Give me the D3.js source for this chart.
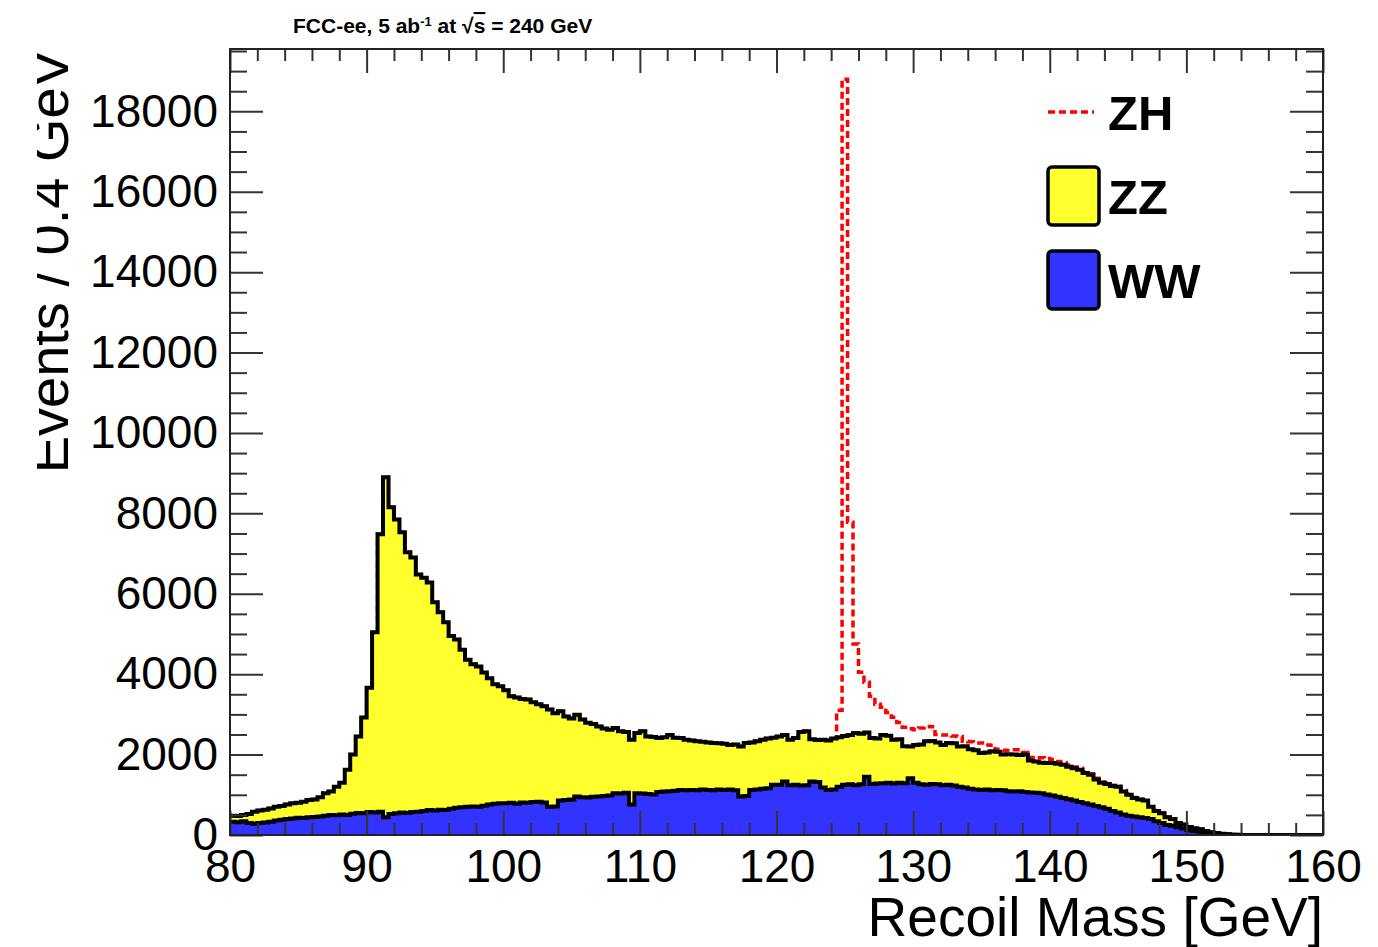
<!DOCTYPE html>
<html>
<head>
<meta charset="utf-8">
<script src="https://cdn.jsdelivr.net/npm/d3@7"></script>
<style>
  body { margin: 0; background: #fff; }
  text { font-family: "Liberation Sans", Arial, Helvetica, sans-serif; }
</style>
</head>
<body>
<div id="chart"></div>
<script>
// recoil mass binning: 80 -> 160 GeV, 0.4 GeV per bin (200 bins)
const massLow = 80, massHigh = 160, binWidth = 0.4;

// events per bin, WW background
const wwEvents = [
  330, 320, 340, 300, 280, 300, 310, 330, 360, 380,
  400, 410, 430, 420, 440, 450, 460, 480, 500, 490,
  510, 500, 530, 550, 540, 570, 560, 580, 440, 520,
  540, 560, 550, 570, 580, 600, 620, 610, 630, 620,
  650, 680, 690, 700, 710, 700, 730, 760, 780, 790,
  790, 800, 780, 810, 800, 820, 830, 810, 700, 710,
  860, 870, 880, 960, 940, 930, 950, 960, 970, 980,
  1040, 1030, 1050, 760, 1040, 1030, 1020, 1010, 1070, 1080,
  1090, 1100, 1120, 1110, 1120, 1110, 1130, 1120, 1110, 1130,
  1120, 1130, 1110, 960, 970, 1120, 1130, 1150, 1160, 1250,
  1250, 1330, 1240, 1250, 1230, 1240, 1330, 1320, 1180, 1120,
  1130, 1200, 1250, 1260, 1240, 1260, 1450, 1270, 1280, 1290,
  1300, 1280, 1300, 1290, 1410, 1300, 1260, 1250, 1270, 1260,
  1240, 1250, 1230, 1200, 1180, 1150, 1130, 1120, 1130, 1110,
  1120, 1110, 1090, 1080, 1090, 1070, 1060, 1050, 1040, 1010,
  980, 950, 920, 890, 860, 820, 790, 760, 720, 690,
  650, 600, 560, 510, 480, 460, 440, 420, 400, 340,
  300, 250, 230, 190, 160, 120, 100, 80, 60, 45,
  30, 20, 12, 6, 3, 0, 0, 0, 0, 0,
  0, 0, 0, 0, 0, 0, 0, 0, 0, 0
];

// events per bin, ZZ background
const zzEvents = [
  150, 150, 160, 220, 300, 310, 320, 330, 340, 340,
  360, 380, 370, 410, 430, 430, 480, 560, 580, 710,
  790, 1120, 1470, 1900, 2380, 3090, 4480, 6900, 8460, 7630,
  7310, 6970, 6480, 6330, 5900, 5800, 5660, 5180, 4910, 4670,
  4300, 4180, 3920, 3660, 3540, 3490, 3310, 3140, 2970, 2910,
  2810, 2650, 2640, 2570, 2570, 2480, 2420, 2390, 2420, 2320,
  2220, 2080, 2020, 2030, 1930, 1860, 1810, 1740, 1680, 1640,
  1620, 1550, 1510, 1610, 1500, 1550, 1430, 1430, 1340, 1350,
  1400, 1320, 1290, 1260, 1230, 1220, 1190, 1180, 1180, 1150,
  1150, 1110, 1140, 1240, 1320, 1180, 1200, 1220, 1240, 1170,
  1200, 1160, 1130, 1160, 1330, 1340, 1050, 1040, 1190, 1230,
  1270, 1230, 1210, 1230, 1300, 1260, 1100, 1140, 1120, 1200,
  1170, 1090, 1080, 920, 790, 940, 990, 1080, 1070, 1040,
  1000, 1040, 1050, 1000, 1030, 980, 980, 920, 920, 970,
  950, 890, 920, 920, 900, 930, 790, 780, 760, 780,
  810, 820, 830, 810, 800, 800, 750, 740, 660, 610,
  620, 620, 640, 570, 520, 460, 440, 440, 300, 260,
  240, 190, 170, 110, 100, 80, 70, 60, 40, 25,
  20, 10, 6, 2, 1, 0, 0, 0, 0, 0,
  0, 0, 0, 0, 0, 0, 0, 0, 0, 0
];

// events per bin, ZH signal
const zhEvents = [
  0, 0, 0, 0, 0, 0, 0, 0, 0, 0,
  0, 0, 0, 0, 0, 0, 0, 0, 0, 0,
  0, 0, 0, 0, 0, 0, 0, 0, 0, 0,
  0, 0, 0, 0, 0, 0, 0, 0, 0, 0,
  0, 0, 0, 0, 0, 0, 0, 0, 0, 0,
  0, 0, 0, 0, 0, 0, 0, 0, 0, 0,
  0, 0, 0, 0, 0, 0, 0, 0, 0, 0,
  0, 0, 0, 0, 0, 0, 0, 0, 0, 0,
  0, 0, 0, 0, 0, 0, 0, 0, 0, 0,
  0, 0, 0, 0, 0, 0, 0, 0, 0, 0,
  0, 0, 0, 0, 0, 0, 0, 0, 0, 0,
  0, 670, 16340, 5290, 2210, 1530, 1250, 1040, 850, 690,
  580, 560, 420, 470, 440, 380, 410, 370, 350, 200,
  250, 200, 180, 250, 120, 190, 180, 250, 190, 150,
  60, 110, 90, 120, 130, 50, 80, 90, 120, 110,
  90, 60, 50, 40, 30, 40, 30, 25, 30, 20,
  30, 20, 15, 25, 20, 15, 12, 10, 15, 10,
  8, 6, 5, 5, 4, 3, 3, 2, 2, 1,
  0, 0, 0, 0, 0, 0, 0, 0, 0, 0,
  0, 0, 0, 0, 0, 0, 0, 0, 0, 0
];

// axis ticks
const xMajorTicks = [80, 90, 100, 110, 120, 130, 140, 150, 160];
const yMajorTicks = [0, 2000, 4000, 6000, 8000, 10000, 12000, 14000, 16000, 18000];
const yMax = 19550;

const legendItems = [
  {key: "zh", label: "ZH"},
  {key: "zz", label: "ZZ"},
  {key: "ww", label: "WW"}
];

const colors = {ww: "#3333ff", zz: "#ffff2e", zh: "#ff0000"};

// layout
const width = 1378, height = 947;
const margin = {top: 49, right: 55, bottom: 112, left: 230};
const plotW = width - margin.left - margin.right;
const plotH = height - margin.top - margin.bottom;

const x = d3.scaleLinear().domain([massLow, massHigh]).range([margin.left, margin.left + plotW]);
const y = d3.scaleLinear().domain([0, yMax]).range([margin.top + plotH, margin.top]);

const svg = d3.select("#chart").append("svg")
  .attr("width", width)
  .attr("height", height);

svg.append("defs").append("clipPath").attr("id", "frameClip")
  .append("rect")
  .attr("x", margin.left).attr("y", margin.top)
  .attr("width", plotW).attr("height", plotH);

// stack the three processes bin by bin
const rows = wwEvents.map((v, i) => ({
  lo: massLow + i * binWidth,
  ww: v,
  zz: zzEvents[i],
  zh: zhEvents[i]
}));
const stacked = d3.stack().keys(["ww", "zz", "zh"])(rows);
const byKey = {};
stacked.forEach(s => { byKey[s.key] = s.map((d, i) => ({lo: rows[i].lo, top: d[1]})); });

// step points: one per lower bin edge plus the closing edge
function steps(series) {
  return series.map(d => [d.lo, d.top]).concat([[massHigh, series[series.length - 1].top]]);
}

const stepLine = d3.line()
  .x(d => x(d[0]))
  .y(d => y(d[1]))
  .curve(d3.curveStepAfter);

const stepArea = d3.area()
  .x(d => x(d[0]))
  .y0(y(0))
  .y1(d => y(d[1]))
  .curve(d3.curveStepAfter);

const marks = svg.append("g").attr("clip-path", "url(#frameClip)");

// ZH on top of the stack, dashed outline only
marks.append("path")
  .datum(steps(byKey.zh))
  .attr("d", stepLine)
  .attr("fill", "none")
  .attr("stroke", colors.zh)
  .attr("stroke-width", 3.5)
  .attr("stroke-dasharray", "7,4");

// ZZ + WW
marks.append("path")
  .datum(steps(byKey.zz))
  .attr("d", stepArea)
  .attr("fill", colors.zz);
marks.append("path")
  .datum(steps(byKey.zz))
  .attr("d", stepLine)
  .attr("fill", "none")
  .attr("stroke", "#000")
  .attr("stroke-width", 4);

// WW
marks.append("path")
  .datum(steps(byKey.ww))
  .attr("d", stepArea)
  .attr("fill", colors.ww);
marks.append("path")
  .datum(steps(byKey.ww))
  .attr("d", stepLine)
  .attr("fill", "none")
  .attr("stroke", "#000")
  .attr("stroke-width", 4);

// axes, ticks point inwards on all four sides
const yMinorTicks = d3.range(0, yMax, 500).filter(v => v % 2000 !== 0);
const xMinorTicks = d3.range(massLow, massHigh, 2).filter(v => v % 10 !== 0);

function styleTicks(g) {
  g.select(".domain").remove();
  g.selectAll("line").attr("stroke", "#333").attr("stroke-width", 2);
  g.selectAll("text")
    .attr("fill", "#000")
    .style("font-size", "46px")
    .style("font-family", "'Liberation Sans', Arial, sans-serif");
}

// left
svg.append("g").attr("transform", `translate(${margin.left},0)`)
  .call(d3.axisLeft(y).tickValues(yMajorTicks).tickSizeInner(-33).tickSizeOuter(0).tickPadding(12).tickFormat(d3.format("d")))
  .call(styleTicks);
svg.append("g").attr("transform", `translate(${margin.left},0)`)
  .call(d3.axisLeft(y).tickValues(yMinorTicks).tickSize(-17).tickFormat(""))
  .call(styleTicks);

// right
svg.append("g").attr("transform", `translate(${margin.left + plotW},0)`)
  .call(d3.axisRight(y).tickValues(yMajorTicks).tickSize(-33).tickFormat(""))
  .call(styleTicks);
svg.append("g").attr("transform", `translate(${margin.left + plotW},0)`)
  .call(d3.axisRight(y).tickValues(yMinorTicks).tickSize(-17).tickFormat(""))
  .call(styleTicks);

// bottom
svg.append("g").attr("transform", `translate(0,${margin.top + plotH})`)
  .call(d3.axisBottom(x).tickValues(xMajorTicks).tickSizeInner(-24).tickSizeOuter(0).tickPadding(14).tickFormat(d3.format("d")))
  .call(styleTicks);
svg.append("g").attr("transform", `translate(0,${margin.top + plotH})`)
  .call(d3.axisBottom(x).tickValues(xMinorTicks).tickSize(-12).tickFormat(""))
  .call(styleTicks);

// top
svg.append("g").attr("transform", `translate(0,${margin.top})`)
  .call(d3.axisTop(x).tickValues(xMajorTicks).tickSize(-24).tickFormat(""))
  .call(styleTicks);
svg.append("g").attr("transform", `translate(0,${margin.top})`)
  .call(d3.axisTop(x).tickValues(xMinorTicks).tickSize(-12).tickFormat(""))
  .call(styleTicks);

// frame
svg.append("rect")
  .attr("x", margin.left).attr("y", margin.top)
  .attr("width", plotW).attr("height", plotH)
  .attr("fill", "none")
  .attr("stroke", "#222")
  .attr("stroke-width", 2);

// axis titles
svg.append("text")
  .attr("x", margin.left + plotW)
  .attr("y", 936)
  .attr("text-anchor", "end")
  .style("font-size", "55px")
  .text("Recoil Mass [GeV]");

// y title is cut along its top edge in the original
svg.append("defs").append("clipPath").attr("id", "titleClip")
  .append("rect").attr("x", 37).attr("y", 0).attr("width", 80).attr("height", height);
svg.append("g").attr("clip-path", "url(#titleClip)")
  .append("text")
  .attr("transform", `translate(68,${margin.top + 1}) rotate(-90)`)
  .attr("text-anchor", "end")
  .style("font-size", "56px")
  .text("Events / 0.4 GeV");

// header
const head = svg.append("text")
  .attr("x", 293)
  .attr("y", 33)
  .style("font-size", "21px")
  .style("font-weight", "bold");
head.append("tspan").text("FCC-ee, 5 ab");
head.append("tspan").attr("baseline-shift", "super").style("font-size", "13px").text("-1");
head.append("tspan").text(" at  \u221A");
head.append("tspan").style("text-decoration", "overline").text("s");
head.append("tspan").text(" = 240 GeV");

// legend
const legend = svg.append("g");
const legendX = 1048, legendY = 112, legendStep = 84;
legendItems.forEach((d, i) => {
  const cy = legendY + i * legendStep;
  if (d.key === "zh") {
    legend.append("line")
      .attr("x1", legendX).attr("x2", legendX + 46)
      .attr("y1", cy).attr("y2", cy)
      .attr("stroke", colors.zh)
      .attr("stroke-width", 3.5)
      .attr("stroke-dasharray", "7,4");
  } else {
    legend.append("rect")
      .attr("x", legendX).attr("y", cy - 29)
      .attr("width", 51).attr("height", 58)
      .attr("rx", 4)
      .attr("fill", colors[d.key])
      .attr("stroke", "#000")
      .attr("stroke-width", 3.5);
  }
  legend.append("text")
    .attr("x", legendX + 60)
    .attr("y", cy + 18)
    .style("font-size", "49px")
    .style("font-weight", "bold")
    .text(d.label);
});
</script>
</body>
</html>
